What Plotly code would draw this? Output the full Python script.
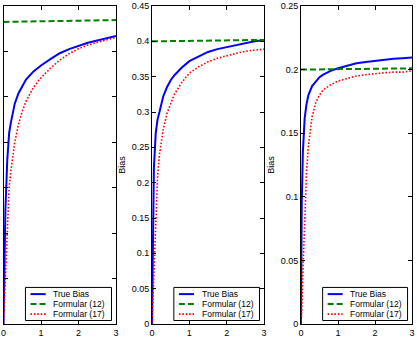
import plotly.graph_objects as go

# ---- data ----
x_vals = [0, 0.02, 0.05, 0.1, 0.15, 0.2, 0.3, 0.4, 0.5, 0.6, 0.8, 1.0,
          1.25, 1.5, 1.75, 2.0, 2.25, 2.5, 2.75, 3.0]

true_bias_1 = [0, 0.10, 0.25, 0.36, 0.42, 0.445, 0.485, 0.508, 0.523, 0.538,
               0.556, 0.569, 0.583, 0.596, 0.605, 0.612, 0.619, 0.624, 0.629, 0.634]
f17_1 = [0, 0.04, 0.10, 0.23, 0.30, 0.34, 0.40, 0.44, 0.468, 0.490,
         0.521, 0.542, 0.563, 0.581, 0.595, 0.606, 0.614, 0.620, 0.626, 0.631]
f12_x = [0, 3.0]
f12_1 = [0.665, 0.669]

true_bias_2 = [0, 0.14, 0.22, 0.27, 0.29, 0.30, 0.322, 0.335, 0.345, 0.352,
               0.363, 0.372, 0.379, 0.385, 0.389, 0.392, 0.395, 0.398, 0.400, 0.402]
f17_2 = [0, 0.03, 0.09, 0.16, 0.21, 0.24, 0.275, 0.298, 0.313, 0.325,
         0.342, 0.355, 0.364, 0.371, 0.376, 0.380, 0.383, 0.386, 0.388, 0.389]
f12_2 = [0.400, 0.402]

true_bias_3 = [0, 0.095, 0.135, 0.162, 0.173, 0.180, 0.187, 0.191, 0.194, 0.196,
               0.199, 0.201, 0.203, 0.205, 0.206, 0.207, 0.2078, 0.2085, 0.209, 0.2095]
f17_3 = [0, 0.01, 0.04, 0.09, 0.12, 0.14, 0.163, 0.174, 0.180, 0.184,
         0.188, 0.191, 0.193, 0.195, 0.196, 0.197, 0.1975, 0.198, 0.198, 0.199]
f12_3 = [0.200, 0.201]

y_ranges = [[0, 0.7], [0, 0.45], [0, 0.25]]
y_dticks = [0.1, 0.05, 0.05]
x_ticks = [0, 1, 2, 3]
legend_names = ["True Bias", "Formular (12)", "Formular (17)"]

BLUE, GREEN, RED = "#0000ff", "#008000", "#ff0000"
styles = [dict(color=BLUE, width=2, dash="solid"),
          dict(color=GREEN, width=2, dash="6px,3px"),
          dict(color=RED, width=1.6, dash="1.6px,1.8px")]

panels = [(true_bias_1, f12_1, f17_1), (true_bias_2, f12_2, f17_2), (true_bias_3, f12_3, f17_3)]

W, H = 417, 339
x_dom_px = [(3.5, 116), (152, 264), (301, 412)]
y_dom = [(339 - 324) / 339, (339 - 6) / 339]

fig = go.Figure()
FONT = "Liberation Sans, Arial, sans-serif"

for i, (tb, f12, f17) in enumerate(panels):
    n = "" if i == 0 else str(i + 1)
    xa, ya = "x" + n, "y" + n
    fig.add_trace(go.Scatter(x=x_vals, y=tb, mode="lines", line=styles[0],
                             name=legend_names[0], showlegend=False, xaxis=xa, yaxis=ya))
    fig.add_trace(go.Scatter(x=f12_x, y=f12, mode="lines", line=styles[1],
                             name=legend_names[1], showlegend=False, xaxis=xa, yaxis=ya))
    fig.add_trace(go.Scatter(x=x_vals, y=f17, mode="lines", line=styles[2],
                             name=legend_names[2], showlegend=False, xaxis=xa, yaxis=ya))

    common = dict(showline=True, linecolor="black", linewidth=1, mirror="allticks",
                  ticks="inside", ticklen=4, tickcolor="black", tickwidth=1,
                  showgrid=False, zeroline=False, automargin=False,
                  tickfont=dict(family=FONT, size=9, color="black"))
    x0, x1 = x_dom_px[i]
    fig.update_layout(**{
        "xaxis" + n: dict(domain=[x0 / W, x1 / W], range=[0, 3], tickvals=x_ticks,
                          anchor=ya, **common),
        "yaxis" + n: dict(domain=y_dom, range=y_ranges[i], dtick=y_dticks[i],
                          tick0=0, anchor=xa, showticklabels=(i != 0),
                          title=dict(text="Bias" if i != 0 else "",
                                     font=dict(family=FONT, size=9, color="black"),
                                     standoff=4),
                          **common),
    })

    # legend box drawn per panel
    xr, yr = xa + " domain", ya + " domain"
    fig.add_shape(type="rect", xref=xr, yref=yr, x0=0.195, x1=0.96, y0=0.011, y1=0.115,
                  line=dict(color="black", width=1), fillcolor="white", layer="above")
    for k, yy in enumerate([0.094, 0.063, 0.031]):
        st = styles[k]
        fig.add_shape(type="line", xref=xr, yref=yr, x0=0.24, x1=0.375, y0=yy, y1=yy,
                      line=dict(color=st["color"], width=st["width"], dash=st["dash"]),
                      layer="above")
        fig.add_annotation(xref=xr, yref=yr, x=0.425, y=yy, text=legend_names[k],
                           showarrow=False, xanchor="left", yanchor="middle",
                           font=dict(family=FONT, size=8.5, color="black"))

fig.update_layout(width=W, height=H, margin=dict(l=0, r=0, t=0, b=0),
                  paper_bgcolor="white", plot_bgcolor="white", showlegend=False)

fig.write_html("out.html")
